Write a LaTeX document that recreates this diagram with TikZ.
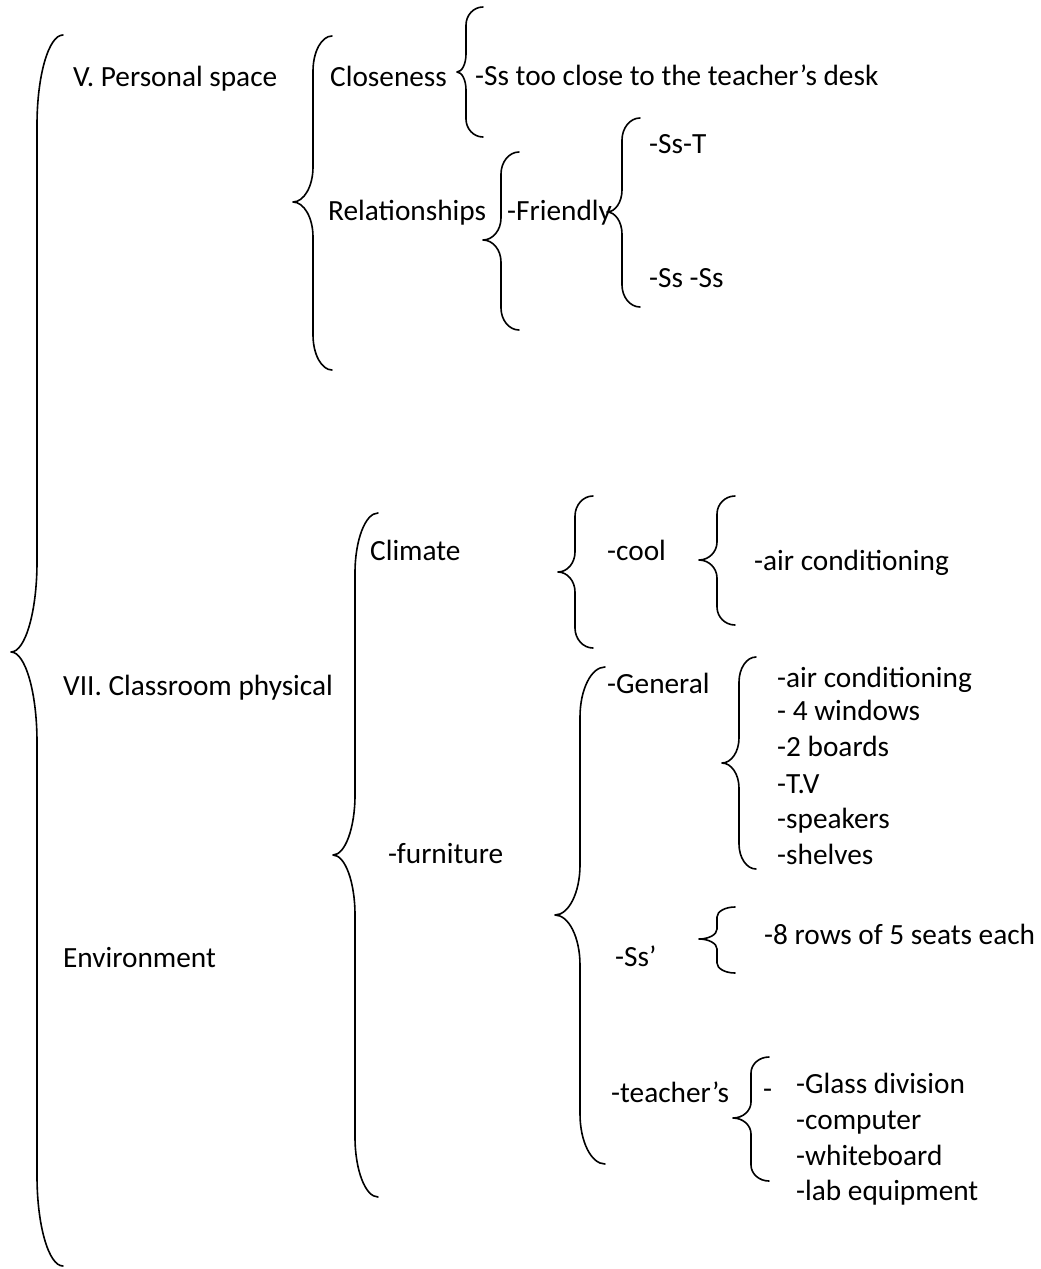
\documentclass[tikz,border=0pt]{standalone}
\usepackage{fontspec}
\setmainfont{Carlito}
\usepackage{tikz}
\usetikzlibrary{positioning}
% #1 end x, #2 stem x, #3 tip x, #4 top y, #5 tip y, #6 bottom y, #7 corner height
\newcommand{\lbrc}[7]{%
  \draw[brc] (#1,#4) .. controls ({#2+0.45*(#1-#2)},#4) and (#2,{#4+0.45*#7}) .. (#2,{#4+#7})
    -- (#2,{#5-#7}) .. controls (#2,{#5-0.45*#7}) and ({#2-0.45*(#2-#3)},#5) .. (#3,#5)
    .. controls ({#2-0.45*(#2-#3)},#5) and (#2,{#5+0.45*#7}) .. (#2,{#5+#7})
    -- (#2,{#6-#7}) .. controls (#2,{#6-0.45*#7}) and ({#2+0.45*(#1-#2)},#6) .. (#1,#6);}
\begin{document}
\begin{tikzpicture}[
  x=1pt,y=-1pt,
  txt/.style={anchor=base west,inner sep=0pt,font=\fontsize{29.3}{35.8}\selectfont},
  brc/.style={line width=1.6pt,line cap=round,line join=round}
]
\useasboundingbox (0,0) rectangle (1041,1269);
\node[txt] (ps) at (73,86) {V. Personal space};
\node[txt] (clos) at (330,86) {Closeness};
\node[txt] (desk) at (475,85) {-Ss too close to the teacher’s desk};
\node[txt] (rel) at (328,220) {Relationships};
\node[txt] (friend) at (507,220) {-Friendly};
\node[txt] (sst) at (649,153) {-Ss-T};
\node[txt] (ssss) at (649,287) {-Ss -Ss};
\node[txt] (cls) at (63,695) {VII. Classroom physical};
\node[txt] (env) at (63,967) {Environment};
\node[txt] (clim) at (370,560) {Climate};
\node[txt] (cool) at (607,560) {-cool};
\node[txt] (ac) at (754,570) {-air conditioning};
\node[txt] (furn) at (388,863) {-furniture};
\node[txt] (gen) at (607,693) {-General};
\node[txt] (gac) at (777,687) {-air conditioning};
\node[txt] (gwin) at (777,720) {- 4 windows};
\node[txt] (gbrd) at (777,756) {-2 boards};
\node[txt] (gtv) at (777,793) {-T.V};
\node[txt] (gspk) at (777,828) {-speakers};
\node[txt] (gshf) at (777,864) {-shelves};
\node[txt] (ssq) at (615,966) {-Ss’};
\node[txt] (rows) at (764,944) {-8 rows of 5 seats each};
\node[txt] (teach) at (611,1102) {-teacher’s};
\node[txt] (tdash) at (763,1098) {-};
\node[txt] (glass) at (796,1093) {-Glass division};
\node[txt] (comp) at (796,1129) {-computer};
\node[txt] (wb) at (796,1165) {-whiteboard};
\node[txt] (lab) at (796,1200) {-lab equipment};
\lbrc{63}{37}{11}{35}{652}{1266}{90}
\lbrc{332}{313}{293}{36}{202}{370}{35}
\lbrc{483}{466}{457}{7}{72}{137}{18}
\lbrc{519}{501}{483}{152}{240}{330}{22}
\lbrc{640}{622}{607}{118}{212}{307}{22}
\lbrc{378}{355}{333}{513}{855}{1197}{60}
\lbrc{593}{575}{558}{496}{572}{648}{20}
\lbrc{735}{717}{699}{496}{560}{625}{18}
\lbrc{605}{580}{555}{667}{915}{1164}{50}
\lbrc{756}{739}{722}{657}{763}{869}{25}
\lbrc{735}{717}{699}{907}{939}{973}{10}
\lbrc{769}{751}{733}{1057}{1118}{1181}{16}
\end{tikzpicture}
\end{document}
